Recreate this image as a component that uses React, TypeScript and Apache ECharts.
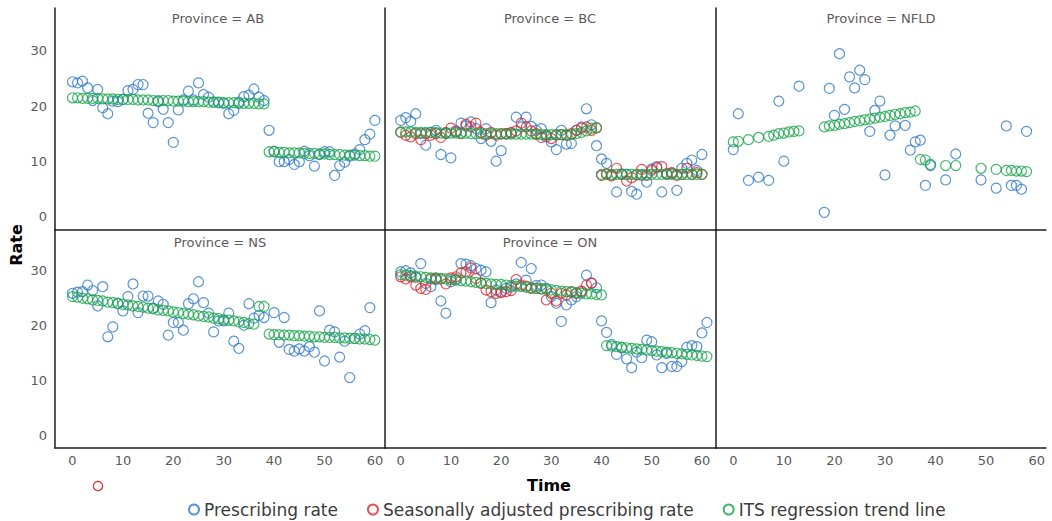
import React, { useEffect, useRef } from "react";
import * as echarts from "echarts";

// ---------- data ----------
const PANELS = ["AB", "BC", "NFLD", "NS", "ON"];
const X_TICKS = [0, 10, 20, 30, 40, 50, 60];
const Y_TICKS = [0, 10, 20, 30];
const SERIES_NAMES = [
  "Prescribing rate",
  "Seasonally adjusted prescribing rate",
  "ITS regression trend line",
];

// values indexed by Time (0, 1, 2, ...); null = no point
const AB_RATE = [
  24.4, 24.2, 24.5, 23.3, 21.0, 23.0, 19.7, 18.6, 20.9, 20.8,
  21.2, 22.8, 23.0, 23.9, 23.9, 18.7, 17.0, 20.8, 19.4, 17.0,
  13.4, 19.3, 21.1, 22.7, 21.1, 24.2, 22.1, 21.6, 20.7, 20.6,
  20.5, 18.6, 19.2, 20.7, 21.7, 22.0, 23.1, 21.6, 21.0, 15.6,
  11.8, 9.9, 9.9, 10.3, 9.4, 9.9, 11.8, 11.0, 9.1, 11.2,
  11.7, 11.7, 7.4, 9.2, 9.8, 10.9, 11.3, 12.1, 13.9, 14.9,
  17.4,
];
const AB_TREND = [
  21.5, 21.5, 21.4, 21.4, 21.4, 21.4, 21.3, 21.3, 21.3, 21.2,
  21.2, 21.2, 21.2, 21.1, 21.1, 21.1, 21.0, 21.0, 21.0, 21.0,
  20.9, 20.9, 20.9, 20.8, 20.8, 20.8, 20.8, 20.7, 20.7, 20.7,
  20.6, 20.6, 20.6, 20.5, 20.5, 20.5, 20.5, 20.4, 20.4, 11.7,
  11.7, 11.6, 11.6, 11.5, 11.5, 11.5, 11.4, 11.4, 11.4, 11.3,
  11.3, 11.2, 11.2, 11.2, 11.1, 11.1, 11.1, 11.0, 11.0, 10.9,
  10.9,
];

const BC_RATE = [
  17.4, 17.9, 17.2, 18.6, 15.0, 12.9, 15.2, 15.6, 11.2, 15.0,
  10.6, 15.5, 16.9, 16.4, 17.1, 15.9, 14.1, 15.9, 13.6, 10.0,
  11.9, 15.0, 15.1, 18.0, 16.2, 18.0, 16.3, 15.6, 15.9, 14.4,
  13.5, 12.1, 15.6, 13.1, 13.2, 15.6, 16.2, 19.5, 16.6, 12.8,
  10.4, 9.6, 7.5, 4.4, 7.7, 7.6, 4.5, 4.0, 7.4, 6.2,
  8.6, 9.0, 4.4, 7.7, 7.8, 4.7, 8.7, 9.6, 10.2, 8.3,
  11.2,
];
const BC_ADJ = [
  15.2, 14.7, 14.4, 15.0, 13.9, 15.0, 14.7, 15.0, 14.3, 15.2,
  16.0, 15.3, 15.0, 16.7, 16.2, 16.9, 15.2, 14.7, 15.2, 14.7,
  15.0, 15.0, 15.2, 15.5, 16.9, 16.2, 15.5, 15.0, 14.3, 14.7,
  14.1, 14.7, 14.8, 14.7, 15.0, 15.6, 16.0, 16.2, 15.6, 16.1,
  7.4, 7.7, 7.3, 8.7, 7.6, 6.4, 7.0, 7.5, 8.5, 7.4,
  8.3, 8.8, 9.0, 7.7, 7.9, 7.4, 7.6, 8.7, 7.6, 7.9,
  7.6,
];
const BC_TREND = [
  15.3, 15.3, 15.3, 15.2, 15.2, 15.2, 15.2, 15.2, 15.1, 15.1,
  15.1, 15.1, 15.1, 15.1, 15.0, 15.0, 15.0, 15.0, 15.0, 15.0,
  14.9, 14.9, 14.9, 14.9, 14.9, 14.9, 14.9, 14.8, 14.8, 14.8,
  14.8, 14.8, 14.8, 14.8, 14.8, 15.0, 15.2, 15.5, 16.0, 16.0,
  7.6, 7.6, 7.6, 7.6, 7.6, 7.6, 7.6, 7.6, 7.6, 7.6,
  7.6, 7.6, 7.6, 7.6, 7.6, 7.6, 7.6, 7.6, 7.6, 7.6,
  7.6,
];

const NFLD_RATE_TIME = [
  0, 1, 3, 5, 7, 9, 10, 13,
  18, 19, 20, 21, 22, 23, 24, 25, 26, 27, 28, 29, 30, 31, 32,
  34, 35, 36, 37, 38, 39,
  42, 44, 49, 52, 54, 55, 56, 57, 58,
];
const NFLD_RATE = [
  12.1, 18.6, 6.5, 7.1, 6.5, 20.9, 10.0, 23.6,
  0.7, 23.2, 18.3, 29.5, 19.4, 25.3, 23.3, 26.5, 24.8, 15.4, 19.2, 20.9, 7.5, 14.7, 16.4,
  16.5, 12.0, 13.5, 13.8, 5.6, 9.2,
  6.6, 11.3, 6.6, 5.1, 16.4, 5.6, 5.6, 4.9, 15.4,
];
const NFLD_TREND_TIME = [
  0, 1, 3, 5, 7, 8, 9, 10, 11, 12, 13,
  18, 19, 20, 21, 22, 23, 24, 25, 26, 27, 28, 29, 30, 31, 32, 33, 34, 35, 36,
  37, 38, 39, 42, 44, 49, 52, 54, 55, 56, 57, 58,
];
const NFLD_TREND = [
  13.5, 13.6, 13.9, 14.3, 14.5, 14.7, 15.0, 15.1, 15.3, 15.4, 15.5,
  16.2, 16.4, 16.5, 16.7, 16.8, 17.0, 17.2, 17.3, 17.5, 17.6, 17.8, 18.0, 18.1, 18.3, 18.5, 18.6, 18.8, 18.9, 19.1,
  10.3, 10.2, 9.4, 9.2, 9.2, 8.7, 8.5, 8.3, 8.3, 8.2, 8.2, 8.1,
];

const NS_RATE = [
  25.9, 26.1, 26.2, 27.4, 26.4, 23.6, 27.1, 18.0, 19.8, 24.0,
  22.7, 25.3, 27.6, 22.4, 25.4, 25.4, 23.2, 24.5, 23.9, 18.3,
  20.6, 20.6, 19.2, 24.0, 24.9, 28.0, 24.2, 22.3, 18.9, 20.9,
  20.9, 22.3, 17.2, 15.9, 20.1, 24.0, 21.4, 21.9, 21.5, null,
  22.4, 17.0, 21.5, 15.7, 15.4, 15.8, 15.4, 16.2, 15.2, 22.7,
  13.6, 19.2, 18.9, 14.3, 17.2, 10.6, 17.7, 18.5, 19.1, 23.3,
  null,
];
const NS_TREND = [
  25.3, 25.2, 25.0, 24.9, 24.7, 24.6, 24.5, 24.3, 24.2, 24.1,
  23.9, 23.8, 23.6, 23.5, 23.4, 23.2, 23.1, 22.9, 22.8, 22.7,
  22.5, 22.4, 22.2, 22.1, 22.0, 21.8, 21.7, 21.6, 21.4, 21.3,
  21.1, 21.0, 20.9, 20.7, 20.6, 20.4, 20.3, 23.5, 23.5, 18.5,
  18.4, 18.4, 18.3, 18.3, 18.2, 18.2, 18.1, 18.1, 18.0, 18.0,
  17.9, 17.9, 17.9, 17.8, 17.8, 17.7, 17.7, 17.6, 17.6, 17.5,
  17.4,
];

const ON_RATE = [
  29.8, 30.0, 29.6, 28.8, 31.3, 27.7, 27.1, 28.4, 24.5, 22.3,
  28.0, 28.5, 31.3, 31.2, 30.9, 30.4, 30.1, 29.8, 24.2, 26.5,
  26.2, 26.8, 27.0, 27.6, 31.5, 28.3, 30.4, 27.3, 27.4, 26.8,
  25.3, 24.1, 20.8, 23.8, 24.7, 25.3, 26.2, 29.2, 27.7, 26.9,
  20.9, 18.8, 16.6, 14.8, 16.0, 14.0, 12.4, 15.2, 14.2, 17.4,
  17.1, 14.7, 12.4, 15.0, 12.6, 12.6, 13.5, 16.1, 16.4, 16.2,
  18.7, 20.6,
];
const ON_ADJ = [
  28.9, 28.5, 28.9, 27.4, 26.8, 26.6, 28.5, 28.6, 28.5, 27.6,
  28.7, 28.9, 29.6, 29.8, 30.5, 28.6, 27.7, 26.5, 26.2, 25.9,
  26.0, 26.2, 26.4, 28.4, 27.4, 27.2, 26.8, 26.8, 26.7, 24.7,
  25.9, 24.5, 25.9, 25.6, 26.2, 25.9, 26.3, 27.4, 27.8,
];
const ON_TREND = [
  29.3, 29.2, 29.1, 29.0, 28.9, 28.8, 28.7, 28.7, 28.6, 28.5,
  28.4, 28.3, 28.2, 28.1, 28.0, 27.9, 27.8, 27.7, 27.6, 27.5,
  27.5, 27.4, 27.3, 27.2, 27.1, 27.0, 26.9, 26.8, 26.7, 26.6,
  26.5, 26.4, 26.3, 26.2, 26.1, 26.0, 25.9, 25.8, 25.8, 25.7,
  25.6, 16.4, 16.3, 16.2, 16.1, 16.0, 15.9, 15.8, 15.7, 15.6,
  15.5, 15.4, 15.3, 15.2, 15.1, 15.0, 14.9, 14.8, 14.7, 14.6,
  14.5, 14.4,
];

// ---------- helpers ----------
const indexed = (vals: (number | null)[]) => {
  const out: number[][] = [];
  vals.forEach((v, i) => {
    if (v !== null && v !== undefined) out.push([i, v]);
  });
  return out;
};
const paired = (times: number[], vals: number[]) => times.map((t, i) => [t, vals[i]]);

const BLUE = "#2f7bc8";
const RED = "#e52629";
const GREEN = "#17a548";
const FONT = "'DejaVu Sans', 'Open Sans', sans-serif";
const AXIS_COLOR = "#1e1e1e";
const LABEL_COLOR = "#5a5a5a";

export default function App() {
  const ref = useRef<HTMLDivElement>(null);

  useEffect(() => {
    if (!ref.current) return;
    const chart = echarts.init(ref.current, undefined, { renderer: "svg" });

    const grids = [
      { left: 55, top: 8, width: 330, height: 222 },
      { left: 385, top: 8, width: 331, height: 222 },
      { left: 716, top: 8, width: 330, height: 222 },
      { left: 55, top: 230, width: 330, height: 218 },
      { left: 385, top: 230, width: 331, height: 218 },
      { left: 716, top: 230, width: 330, height: 218 },
    ];
    const xRanges = [
      [-3.47, 62.0],
      [-3.13, 62.8],
      [-3.42, 61.85],
    ];
    const yRanges = [
      [-2.5, 37.8],
      [-2.2, 37.4],
    ];

    const xAxis = grids.map((_, i) => {
      const col = i % 3;
      const row = Math.floor(i / 3);
      return {
        type: "value",
        gridIndex: i,
        min: xRanges[col][0],
        max: xRanges[col][1],
        splitLine: { show: false },
        axisTick: { show: false },
        axisLine: { show: true, onZero: false, lineStyle: { color: AXIS_COLOR, width: 1.5 } },
        axisLabel: {
          show: row === 1,
          customValues: X_TICKS,
          color: LABEL_COLOR,
          fontSize: 13,
          fontFamily: FONT,
          margin: 6,
        },
      };
    });
    const yAxis = grids.map((_, i) => {
      const col = i % 3;
      const row = Math.floor(i / 3);
      return {
        type: "value",
        gridIndex: i,
        min: yRanges[row][0],
        max: yRanges[row][1],
        splitLine: { show: false },
        axisTick: { show: false },
        axisLine: { show: true, onZero: false, lineStyle: { color: AXIS_COLOR, width: 1.5 } },
        axisLabel: {
          show: col === 0,
          customValues: Y_TICKS,
          color: LABEL_COLOR,
          fontSize: 13,
          fontFamily: FONT,
          margin: 8,
        },
      };
    });

    const mk = (name: string, color: string, idx: number, data: number[][]) => ({
      type: "scatter",
      name,
      xAxisIndex: idx,
      yAxisIndex: idx,
      data,
      symbol: "circle",
      symbolSize: 10,
      itemStyle: { color: "rgba(0,0,0,0)", borderColor: color, borderWidth: 1.2 },
      emphasis: { disabled: true },
    });

    const series: any[] = [
      mk(SERIES_NAMES[0], BLUE, 0, indexed(AB_RATE)),
      mk(SERIES_NAMES[2], GREEN, 0, indexed(AB_TREND)),
      mk(SERIES_NAMES[0], BLUE, 1, indexed(BC_RATE)),
      mk(SERIES_NAMES[1], RED, 1, indexed(BC_ADJ)),
      mk(SERIES_NAMES[2], GREEN, 1, indexed(BC_TREND)),
      mk(SERIES_NAMES[0], BLUE, 2, paired(NFLD_RATE_TIME, NFLD_RATE)),
      mk(SERIES_NAMES[2], GREEN, 2, paired(NFLD_TREND_TIME, NFLD_TREND)),
      mk(SERIES_NAMES[0], BLUE, 3, indexed(NS_RATE)),
      mk(SERIES_NAMES[2], GREEN, 3, indexed(NS_TREND)),
      mk(SERIES_NAMES[0], BLUE, 4, indexed(ON_RATE)),
      mk(SERIES_NAMES[1], RED, 4, indexed(ON_ADJ)),
      mk(SERIES_NAMES[2], GREEN, 4, indexed(ON_TREND)),
    ];

    const stripCenters = [
      [218, 18],
      [550, 18],
      [881, 18],
      [220, 242],
      [550, 242],
    ];
    const graphic: any[] = PANELS.map((p, i) => ({
      type: "text",
      x: stripCenters[i][0],
      y: stripCenters[i][1],
      style: {
        text: `Province = ${p}`,
        align: "center",
        verticalAlign: "middle",
        fill: LABEL_COLOR,
        font: `13px ${FONT}`,
      },
    }));
    graphic.push({
      type: "text",
      x: 549,
      y: 485,
      style: {
        text: "Time",
        align: "center",
        verticalAlign: "middle",
        fill: "#000",
        font: `bold 16px ${FONT}`,
      },
    });
    graphic.push({
      type: "text",
      x: 16,
      y: 245,
      rotation: Math.PI / 2,
      style: {
        text: "Rate",
        align: "center",
        verticalAlign: "middle",
        fill: "#000",
        font: `bold 16px ${FONT}`,
      },
    });
    graphic.push({
      type: "circle",
      shape: { cx: 98, cy: 486, r: 4.6 },
      style: { fill: "none", stroke: RED, lineWidth: 1.2 },
    });

    chart.setOption({
      animation: false,
      backgroundColor: "#ffffff",
      grid: grids,
      xAxis,
      yAxis,
      series,
      graphic,
      legend: {
        data: SERIES_NAMES,
        left: 188,
        top: 501,
        icon: "circle",
        itemWidth: 10,
        itemHeight: 10,
        itemGap: 29,
        padding: 0,
        selectedMode: false,
        textStyle: { fontSize: 17, color: "#3c3c3c", fontFamily: FONT },
      },
    });

    return () => chart.dispose();
  }, []);

  return (
    <div
      ref={ref}
      style={{ position: "absolute", left: 0, top: 0, width: 1052, height: 521 }}
    />
  );
}
